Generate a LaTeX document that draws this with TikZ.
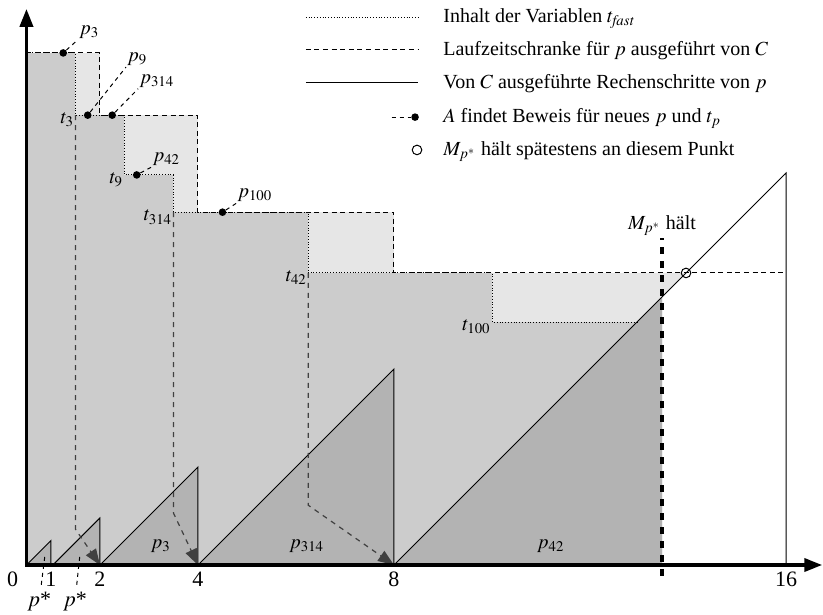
\documentclass[tikz,border=0pt]{standalone}
\usepackage{mathptmx}
\usepackage[no-math]{fontspec}
\setmainfont{Liberation Serif}
\usetikzlibrary{arrows.meta,positioning}
\definecolor{gMid}{HTML}{CCCCCC}
\definecolor{gLight}{HTML}{E6E6E6}
\definecolor{gDark}{HTML}{B3B3B3}
\definecolor{gArr}{HTML}{404040}
\tikzset{
  axis/.style={line width=1.8pt,{Triangle[length=9pt,width=6.5pt]}-{Triangle[length=9pt,width=6.5pt]}},
  tfast/.style={dash pattern=on 0.4pt off 1pt,line width=0.45pt},
  bound/.style={dash pattern=on 2.5pt off 1.8pt,line width=0.5pt},
  run/.style={line width=0.5pt},
  runtri/.style={run,fill=gDark},
  leader/.style={dash pattern=on 2pt off 2pt,line width=0.5pt},
  jump/.style={gArr,dash pattern=on 2.5pt off 2.5pt,line width=0.6pt,
               -{Triangle[length=8pt,width=6pt]}},
  mline/.style={line width=2pt,dash pattern=on 3.5pt off 3.5pt},
  found/.style={circle,fill=black,inner sep=0pt,minimum size=3.8pt},
  halt/.style={circle,draw=black,inner sep=0pt,minimum size=4.8pt,line width=0.5pt},
  plab/.style={anchor=south west,inner sep=0.5pt},
  tlab/.style={anchor=east,inner sep=0.5pt,yshift=-2.5pt},
  tick/.style={font=\fontsize{11}{13}\selectfont},
  legtext/.style={anchor=base west,inner sep=0pt},
}

\begin{document}
\begin{tikzpicture}[x=0.861cm,y=0.861cm,font=\fontsize{10}{12}\selectfont]
  \useasboundingbox (-0.04,-1.02) rectangle (16.755,11.53);
  % area under t_fast, and the slack up to the bound
  \fill[gMid] (0.5,0) -- (0.5,10.45) -- (1.5,10.45) -- (1.5,9.18) -- (2.5,9.18)
    -- (2.5,7.96) -- (3.5,7.96) -- (3.5,7.2) -- (6.25,7.2) -- (6.25,5.96)
    -- (10,5.96) -- (10,4.96) -- (12.96,4.96) -- (13.47,5.47) -- (13.47,0) -- cycle;
  \fill[gLight] (1.5,10.45) rectangle (2,9.18);
  \fill[gLight] (2.5,9.18) -- (4,9.18) -- (4,7.2) -- (3.5,7.2) -- (3.5,7.96)
    -- (2.5,7.96) -- cycle;
  \fill[gLight] (6.25,7.2) rectangle (8,5.96);
  \fill[gLight] (10,5.96) -- (13.96,5.96) -- (12.96,4.96) -- (10,4.96) -- cycle;
  % steps run by C
  \draw[runtri] (0.5,0) -- (1,0.5) -- (1,0);
  \draw[runtri] (1.04,0) -- (2,0.96) -- (2,0);
  \draw[runtri] (2,0) -- (4,2) -- (4,0);
  \draw[runtri] (4,0) -- (8,4) -- (8,0);
  \fill[gDark] (8,0) -- (13.47,5.47) -- (13.47,0) -- cycle;
  \draw[run] (8,0) -- (16,8) -- (16,0);
  % t_fast and bound
  \draw[tfast] (0.5,10.45) -- (1.5,10.45) -- (1.5,9.18) -- (2.5,9.18) -- (2.5,7.96)
    -- (3.5,7.96) -- (3.5,7.2) -- (6.25,7.2) -- (6.25,5.96) -- (10,5.96)
    -- (10,4.96) -- (12.96,4.96);
  \draw[bound] (0.5,10.45) -- (2,10.45) -- (2,9.18) -- (4,9.18) -- (4,7.2)
    -- (8,7.2) -- (8,5.96) -- (16,5.96);
  % corners t_p and restart points
  \coordinate (t3) at (1.5,9.18);
  \coordinate (t9) at (2.5,7.96);
  \coordinate (t314) at (3.5,7.2);
  \coordinate (t42) at (6.25,5.96);
  \coordinate (t100) at (10,4.96);
  \coordinate (a2) at (2,0);
  \coordinate (a4) at (4,0);
  \coordinate (a8) at (8,0);
  \draw[jump] (t3) -- (1.5,0.73) -- (a2);
  \draw[jump] (t314) -- (3.5,1.06) -- (a4);
  \draw[jump] (t42) -- (6.25,1.22) -- (a8);
  \foreach \t in {3,9,314,42,100}
    \node[tlab] (lt\t) at (t\t) {$t_{\t}$};
  % proofs found by A
  \node[found] (d3) at (1.25,10.45) {};
  \node[found] (d9) at (1.75,9.18) {};
  \node[found] (d314) at (2.25,9.18) {};
  \node[found] (d42) at (2.75,7.96) {};
  \node[found] (d100) at (4.5,7.2) {};
  \node[plab] (l3) at (1.55,10.72) {$p_3$};
  \node[plab] (l9) at (2.53,10.16) {$p_9$};
  \node[plab] (l314) at (2.78,9.72) {$p_{314}$};
  \node[plab] (l42) at (3.05,8.12) {$p_{42}$};
  \node[plab] (l100) at (4.78,7.38) {$p_{100}$};
  \foreach \p in {3,9,314,42,100}
    \draw[leader] (d\p) -- (l\p.south west);
  % programs inside the triangles
  \node (q3) at (3.24,0.39) {$p_3$};
  \node (q314) at (6.22,0.39) {$p_{314}$};
  \node (q42) at (11.2,0.39) {$p_{42}$};
  \node[tick] (s1) at (0.76,-0.74) {$p$*};
  \node[tick] (s2) at (1.49,-0.74) {$p$*};
  \coordinate (e1) at (0.88,0.22);
  \coordinate (e2) at (1.59,0.2);
  \draw[leader] (s1) -- (e1);
  \draw[leader] (s2) -- (e2);
  % M_p* halts
  \coordinate (m0) at (13.47,-0.22);
  \coordinate (m1) at (13.47,6.67);
  \draw[mline] (m0) -- (m1);
  \node[above=0pt of m1,inner sep=1pt] (mh) {$M_{p^*}$ hält};
  \node[halt] (hp) at (13.96,5.96) {};
  % axes
  \draw[axis] (0.5,11.35) -- (0.5,0) -- (16.74,0);
  \node[tick] (n0) at (0.22,-0.3) {0};
  \foreach \v in {1,2,4,8,16}
    \node[tick] (n\v) at (\v,-0.3) {\v};
  % legend
  \foreach \st/\yy in {tfast/11.18,bound/10.51,run/9.84}
    \draw[\st] (6.2,\yy) -- (8.5,\yy);
  \node[found] (kd) at (8.43,9.14) {};
  \coordinate (kl) at (7.95,9.14);
  \draw[leader] (kl) -- (kd);
  \node[halt] (kc) at (8.47,8.47) {};
  \node[legtext] at (9,11.07) {Inhalt der Variablen $t_{\mathit{fast}}$};
  \node[legtext] at (9,10.40) {Laufzeitschranke für $p$ ausgeführt von $C$};
  \node[legtext] at (9,9.73) {Von $C$ ausgeführte Rechenschritte von $p$};
  \node[legtext] at (9,9.03) {$A$ findet Beweis für neues $p$ und $t_p$};
  \node[legtext] at (9,8.36) {$M_{p^*}$ hält spätestens an diesem Punkt};
\end{tikzpicture}
\end{document}
